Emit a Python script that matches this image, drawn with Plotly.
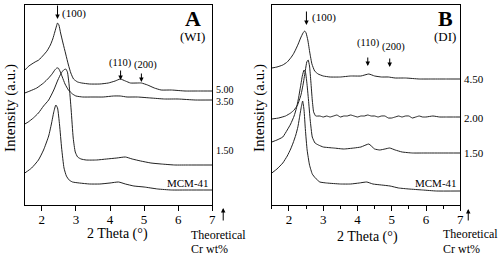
import plotly.graph_objects as go

# ---------------- Panel A (WI) ----------------
a500_x = [1.5, 1.62, 1.8, 1.91, 2.05, 2.15, 2.25, 2.32, 2.38, 2.43, 2.46, 2.50, 2.55, 2.62, 2.70, 2.78, 2.85, 2.93,
          3.05, 3.17, 3.4, 3.7, 3.95, 4.15, 4.3, 4.45, 4.6, 4.8, 4.92, 5.1, 5.3, 5.5, 5.8, 6.2, 6.6, 7.0]
a500_y = [135, 139, 143, 145, 150, 154, 160, 166, 173, 179, 182, 180, 172, 162, 151, 140, 132, 126,
          123, 122, 121, 121, 122, 124, 126, 124, 122, 122, 122, 120, 117, 115, 115, 114, 114, 114]

a350_x = [1.5, 1.65, 1.85, 2.05, 2.2, 2.3, 2.38, 2.44, 2.48, 2.53, 2.6, 2.68, 2.78, 2.9, 3.0, 3.2, 3.5, 3.8,
          4.1, 4.3, 4.5, 4.8, 5.2, 5.6, 6.0, 6.5, 7.0]
a350_y = [112, 114, 117, 122, 127, 131, 135, 137, 137, 134, 128, 121, 115, 111, 109, 108, 108, 108,
          109, 109, 108, 108, 107, 106, 106, 105, 105]

a150_x = [1.5, 1.6, 1.75, 1.9, 2.05, 2.2, 2.35, 2.47, 2.57, 2.64, 2.70, 2.75, 2.80, 2.86, 2.92, 2.98, 3.05,
          3.15, 3.3, 3.6, 3.9, 4.2, 4.45, 4.65, 4.9, 5.2, 5.5, 5.9, 6.3, 7.0]
a150_y = [81, 83, 87, 92, 99, 105, 115, 125, 132, 135, 136, 133, 120, 95, 67, 53, 48,
          46, 45, 45, 46, 47, 48, 46, 44, 42, 41, 40, 40, 40]

amcm_x = [1.5, 1.7, 1.9, 2.05, 2.2, 2.28, 2.35, 2.41, 2.46, 2.52, 2.58, 2.65, 2.72, 2.8, 2.9, 3.1, 3.4, 3.7,
          4.0, 4.25, 4.45, 4.7, 5.0, 5.4, 5.8, 6.3, 7.0]
amcm_y = [32, 37, 45, 55, 69, 81, 93, 100, 97, 80, 57, 37, 29, 25, 23, 22, 21, 21,
          22, 23, 21, 19, 18, 16, 15, 15, 15]

# ---------------- Panel B (DI) ----------------
b450_x = [1.5, 1.65, 1.82, 1.95, 2.05, 2.13, 2.19, 2.27, 2.34, 2.41, 2.46, 2.50, 2.55, 2.61, 2.67, 2.75, 2.85,
          3.0, 3.2, 3.5, 3.8, 4.1, 4.33, 4.5, 4.7, 4.9, 5.1, 5.4, 5.8, 6.2, 6.6, 7.0]
b450_y = [137, 138, 140, 143, 147, 151, 155, 161, 167, 172, 174, 172, 165, 152, 141, 134, 131,
          129, 128, 128, 129, 129, 131, 129, 128, 128, 127, 127, 126, 126, 126, 126]

b200_x = [1.5, 1.7, 1.9, 2.05, 2.15, 2.25, 2.35, 2.42, 2.48, 2.52, 2.56, 2.60, 2.64, 2.68, 2.72, 2.78,
          2.9, 3.0, 3.1, 3.2, 3.3, 3.4, 3.5, 3.6, 3.7, 3.8, 3.9, 4.0, 4.1, 4.2, 4.3, 4.4,
          4.5, 4.6, 4.7, 4.8, 4.9, 5.0, 5.1, 5.2, 5.3, 5.4, 5.5, 5.6, 5.7, 5.8, 5.9, 6.0,
          6.2, 6.4, 6.6, 6.8, 7.0]
b200_y = [86, 87, 89, 92, 95, 100, 110, 122, 135, 143, 145, 139, 123, 105, 93, 89,
          89, 88, 89, 88, 89, 90, 88, 89, 89, 90, 89, 88, 89, 89, 90, 89,
          89, 88, 89, 89, 87, 87, 88, 89, 88, 89, 89, 87, 88, 89, 88, 88,
          89, 88, 88, 88, 88]

b150_x = [1.5, 1.65, 1.82, 1.95, 2.05, 2.15, 2.22, 2.28, 2.34, 2.39, 2.44, 2.48, 2.52, 2.57, 2.62, 2.68, 2.76,
          2.86, 3.0, 3.3, 3.6, 3.9, 4.1, 4.33, 4.5, 4.65, 4.8, 4.94, 5.1, 5.3, 5.6, 6.0, 6.5, 7.0]
b150_y = [63, 65, 68, 75, 81, 89, 97, 107, 119, 129, 135, 133, 123, 105, 85, 68, 62,
          60, 58, 57, 56, 57, 58, 61, 56, 55, 56, 57, 55, 53, 52, 52, 52, 52]

bmcm_x = [1.5, 1.65, 1.82, 1.95, 2.05, 2.12, 2.2, 2.26, 2.31, 2.36, 2.40, 2.44, 2.48, 2.53, 2.6, 2.68,
          2.77, 2.9, 3.1, 3.5, 3.8, 4.05, 4.27, 4.45, 4.7, 4.95, 5.2, 5.5, 5.9, 6.3, 7.0]
bmcm_y = [32, 36, 42, 49, 56, 62, 70, 78, 88, 98, 104, 95, 75, 55, 40, 31,
          27, 23, 22, 21, 21, 22, 23, 21, 20, 19, 17, 16, 15, 14, 14]

x_ticks = [2, 3, 4, 5, 6, 7]
a_labels = ["5.00", "3.50", "1.50"]
b_labels = ["4.50", "2.00", "1.50"]

FONT = "Liberation Serif"
LINE = dict(color="#222222", width=1)

fig = go.Figure()
for xs, ys in [(a500_x, a500_y), (a350_x, a350_y), (a150_x, a150_y), (amcm_x, amcm_y)]:
    fig.add_trace(go.Scatter(x=xs, y=ys, mode="lines", line=dict(**LINE, shape="spline", smoothing=0.5),
                             xaxis="x", yaxis="y", showlegend=False, hoverinfo="skip"))
for xs, ys in [(b450_x, b450_y), (b200_x, b200_y), (b150_x, b150_y), (bmcm_x, bmcm_y)]:
    fig.add_trace(go.Scatter(x=xs, y=ys, mode="lines", line=dict(**LINE, shape="spline", smoothing=0.4),
                             xaxis="x2", yaxis="y2", showlegend=False, hoverinfo="skip"))

xcommon = dict(range=[1.5, 7], tickvals=x_ticks, ticks="outside", ticklen=5, tickwidth=1,
               tickcolor="black", showline=True, linecolor="black", linewidth=1, mirror=True,
               ticklabelstandoff=-3,
               showgrid=False, zeroline=False, tickfont=dict(family=FONT, size=13, color="black"))
ycommon = dict(range=[0, 200], showticklabels=False, ticks="", showline=True, linecolor="black",
               linewidth=1, mirror=True, showgrid=False, zeroline=False)

fig.update_layout(
    width=503, height=259, margin=dict(l=0, r=0, t=5, b=54),
    paper_bgcolor="white", plot_bgcolor="white",
    xaxis=dict(domain=[25 / 503, 214 / 503], anchor="y", **xcommon),
    yaxis=dict(domain=[0, 1], anchor="x", **ycommon),
    xaxis2=dict(domain=[274 / 503, 464 / 503], anchor="y2",
                minor=dict(dtick=0.5, tick0=1.5, ticks="outside", ticklen=3, tickcolor="black"), **xcommon),
    yaxis2=dict(domain=[0, 1], anchor="x2", **ycommon),
)

ann = []
def txt(text, x, y, xref, yref, size=12, xanchor="center", yanchor="middle", **kw):
    ann.append(dict(text=text, x=x, y=y, xref=xref, yref=yref, showarrow=False, xanchor=xanchor,
                    yanchor=yanchor, font=dict(family=FONT, size=size, color="black"), **kw))

def arrow(x, y, xref, yref, ay):
    ann.append(dict(text="", x=x, y=y, xref=xref, yref=yref, showarrow=True, ax=0, ay=ay,
                    arrowhead=2, arrowsize=0.9, arrowwidth=1, arrowcolor="black"))

# Panel A texts
txt("<b>A</b>", 6.44, 187, "x", "y", size=22)
txt("(WI)", 6.41, 169, "x", "y", size=13)
txt("(100)", 2.52, 192, "x", "y", size=11, xanchor="left")
arrow(2.46, 186, "x", "y", -15)
txt("(110)", 4.31, 142, "x", "y", size=10.5)
arrow(4.31, 125, "x", "y", -11)
txt("(200)", 5.05, 140, "x", "y", size=10.5)
arrow(4.92, 123, "x", "y", -10)
for lab, yv in zip(a_labels, [116, 104, 55]):
    txt(lab, 7, yv, "x", "y", size=10, xanchor="left", xshift=2)
txt("MCM-41", 6.95, 22, "x", "y", size=11, xanchor="right")

# Panel B texts
txt("<b>B</b>", 6.56, 187, "x2", "y2", size=22)
txt("(DI)", 6.56, 169, "x2", "y2", size=13)
txt("(100)", 2.6, 188, "x2", "y2", size=11, xanchor="left")
arrow(2.51, 180, "x2", "y2", -15)
txt("(110)", 4.32, 162, "x2", "y2", size=10.5)
arrow(4.30, 139, "x2", "y2", -10)
txt("(200)", 5.05, 158, "x2", "y2", size=10.5)
arrow(4.94, 138, "x2", "y2", -10)
for lab, yv in zip(b_labels, [126, 87, 52]):
    txt(lab, 7, yv, "x2", "y2", size=11, xanchor="left", xshift=2)
txt("MCM-41", 6.95, 22, "x2", "y2", size=11, xanchor="right")

# Axis titles
txt("2 Theta (°)", 118 / 503, -0.145, "paper", "paper", size=14)
txt("2 Theta (°)", 370 / 503, -0.16, "paper", "paper", size=14)
txt("Intensity (a.u.)", 10 / 503, 0.485, "paper", "paper", size=15, textangle=-90)
txt("Intensity (a.u.)", 261 / 503, 0.485, "paper", "paper", size=15, textangle=-90)

# Theoretical Cr wt%
txt("Theoretical", 191 / 503, -0.15, "paper", "paper", size=12, xanchor="left")
txt("Cr wt%", 191 / 503, -0.22, "paper", "paper", size=12, xanchor="left")
arrow(225 / 503, -0.015, "paper", "paper", 14)
txt("Theoretical", 445 / 503, -0.145, "paper", "paper", size=12, xanchor="left")
txt("Cr wt%", 445 / 503, -0.22, "paper", "paper", size=12, xanchor="left")
arrow(472 / 503, -0.02, "paper", "paper", 13)

fig.update_layout(annotations=ann)
fig.write_html("out.html", config={"displayModeBar": False},
               post_script="document.body.style.margin='0';document.body.style.overflow='hidden';")
